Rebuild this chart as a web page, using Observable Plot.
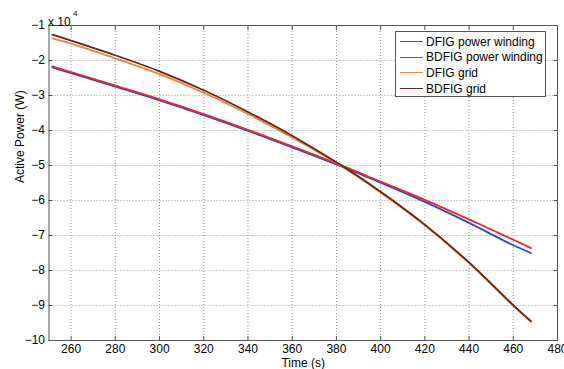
<!DOCTYPE html>
<html>
<head>
<meta charset="utf-8">
<script src="https://cdn.jsdelivr.net/npm/d3@7"></script>
<script src="https://cdn.jsdelivr.net/npm/@observablehq/plot@0.6"></script>
<style>
  body { margin: 0; background: #fff; }
  #wrap { position: relative; width: 564px; height: 369px; font-family: "Liberation Sans", Arial, sans-serif; }
  #legend { position: absolute; left: 395px; top: 31px; width: 151px; height: 66px; border: 1px solid #555; background: #fff; box-sizing: border-box; padding-top: 2px; }
  .row { display: flex; align-items: center; height: 15.6px; font-size: 12px; color: #000; }
  .sw { width: 23px; height: 0; border-top: 1.5px solid; margin-left: 4px; margin-right: 3px; }
</style>
</head>
<body>
<div id="wrap"></div>
<script>
// Time (s)
const times = [251.5, 260, 280, 300, 320, 340, 360, 380, 400, 420, 440, 460, 468];
// Active power in units of x10^4 W
const dfigPowerWinding  = [-2.20, -2.36, -2.75, -3.14, -3.56, -4.01, -4.48, -4.97, -5.49, -6.04, -6.64, -7.28, -7.50];
const bdfigPowerWinding = [-2.17, -2.33, -2.72, -3.11, -3.53, -3.98, -4.45, -4.94, -5.46, -5.98, -6.54, -7.12, -7.36];
const dfigGrid          = [-1.37, -1.52, -1.94, -2.39, -2.92, -3.53, -4.20, -4.93, -5.77, -6.71, -7.79, -9.01, -9.46];
const bdfigGrid         = [-1.26, -1.43, -1.85, -2.31, -2.85, -3.47, -4.15, -4.91, -5.75, -6.69, -7.77, -8.99, -9.45];

const seriesNames = ["DFIG power winding", "BDFIG power winding", "DFIG grid", "BDFIG grid"];
const seriesColors = ["#2a4cc0", "#f02424", "#e0883a", "#6e2014"];
const seriesValues = [dfigPowerWinding, bdfigPowerWinding, dfigGrid, bdfigGrid];

const xTicks = [260, 280, 300, 320, 340, 360, 380, 400, 420, 440, 460, 480];
const yTicks = [-1, -2, -3, -4, -5, -6, -7, -8, -9, -10];

const rows = [];
seriesNames.forEach((name, i) => {
  times.forEach((t, j) => rows.push({series: name, time: t, power: seriesValues[i][j]}));
});

const chart = Plot.plot({
  width: 564,
  height: 369,
  marginLeft: 48.5,
  marginRight: 7,
  marginTop: 25,
  marginBottom: 29,
  style: {fontFamily: "'Liberation Sans', Arial, sans-serif", fontSize: "12px", color: "#000", background: "#fff"},
  x: {domain: [250, 480], ticks: xTicks, label: null},
  y: {domain: [-10, -1], ticks: yTicks, label: null},
  color: {domain: seriesNames, range: seriesColors},
  marks: [
    Plot.gridX(xTicks, {stroke: "#999", strokeOpacity: 1, strokeDasharray: "1,2"}),
    Plot.gridY(yTicks, {stroke: "#999", strokeOpacity: 1, strokeDasharray: "1,2"}),
    Plot.axisX(xTicks, {anchor: "bottom", tickSize: 0, tickPadding: 4, fontSize: 12}),
    Plot.axisX(xTicks, {anchor: "bottom", tickSize: -4, text: null, stroke: "#555"}),
    Plot.axisX(xTicks, {anchor: "top", tickSize: -4, text: null, stroke: "#555"}),
    Plot.axisY(yTicks, {anchor: "left", tickSize: 0, tickPadding: 4, fontSize: 12}),
    Plot.axisY(yTicks, {anchor: "left", tickSize: -4, text: null, stroke: "#555"}),
    Plot.axisY(yTicks, {anchor: "right", tickSize: -4, text: null, stroke: "#555"}),
    Plot.line(rows, {x: "time", y: "power", stroke: "series", z: "series", strokeWidth: 1.8, curve: "catmull-rom"}),
    Plot.frame({stroke: "#555", strokeWidth: 1}),
    Plot.text(["x 10"], {frameAnchor: "top-left", dx: -1, dy: -8, textAnchor: "start", fontSize: 12, fill: "#000"}),
    Plot.text(["4"], {frameAnchor: "top-left", dx: 24, dy: -15, textAnchor: "start", fontSize: 8, fill: "#000"}),
    Plot.text(["Time (s)"], {frameAnchor: "bottom", dy: 26, fontSize: 12, fill: "#000"}),
    Plot.text(["Active Power (W)"], {frameAnchor: "left", dx: -29, rotate: -90, fontSize: 12, fill: "#000"})
  ]
});

const wrap = document.getElementById("wrap");
wrap.appendChild(chart);

const legend = document.createElement("div");
legend.id = "legend";
seriesNames.forEach((name, i) => {
  const row = document.createElement("div");
  row.className = "row";
  const sw = document.createElement("span");
  sw.className = "sw";
  sw.style.borderTopColor = seriesColors[i];
  const label = document.createElement("span");
  label.textContent = name;
  row.appendChild(sw);
  row.appendChild(label);
  legend.appendChild(row);
});
wrap.appendChild(legend);
</script>
</body>
</html>
